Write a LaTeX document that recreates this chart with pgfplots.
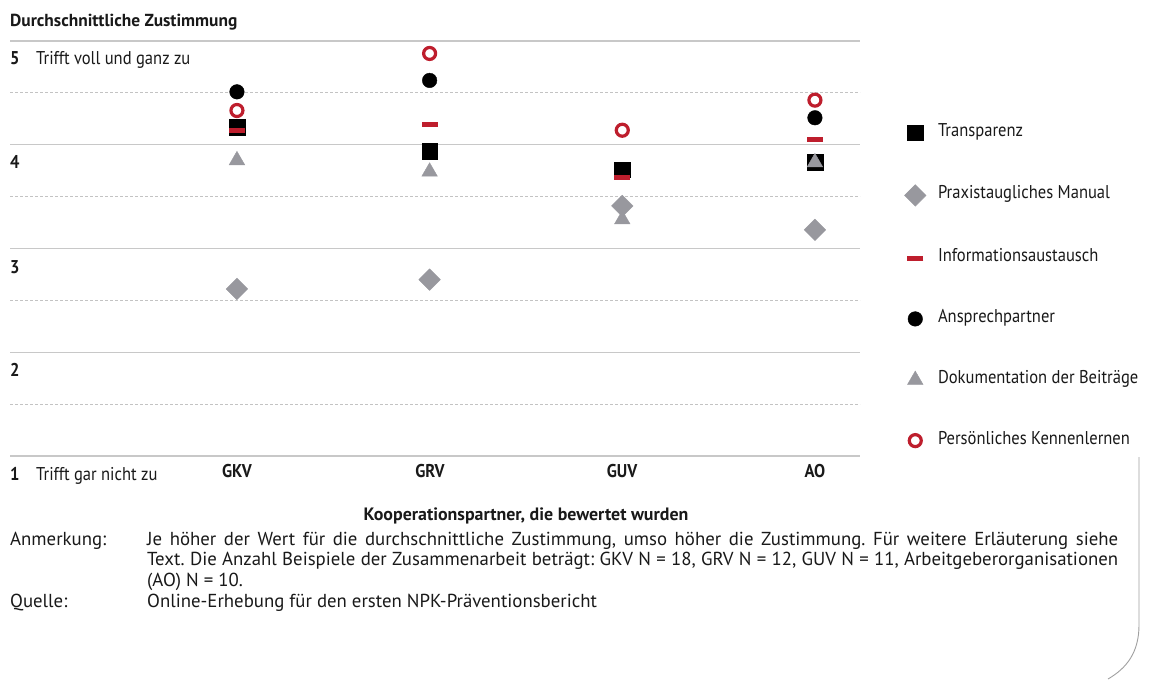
\documentclass[border=0pt]{standalone}
\usepackage{fontspec}
\setmainfont{PT Sans}
\newfontfamily\cond[FakeStretch=0.895]{PT Sans}
\usepackage{pgfplots}
\usepackage{pgfplotstable}
\pgfplotsset{compat=1.18}
\frenchspacing

\definecolor{nred}{RGB}{190,30,45}
\definecolor{ngray}{RGB}{152,152,158}
\definecolor{gridc}{RGB}{200,200,200}
\definecolor{dotc}{RGB}{195,195,195}
\definecolor{txt}{RGB}{25,25,25}
\newcommand\fc{\cond\fontsize{18.5bp}{21bp}\selectfont}
\newcommand\fn{\fontsize{18.8bp}{21bp}\selectfont}

% x: 0 = GKV, 1 = GRV, 2 = GUV, 3 = AO
\pgfplotstableread{
x y
0 4.17
1 3.94
2 3.76
3 3.83
}\transparenz
\pgfplotstableread{
x y
0 2.61
1 2.70
2 3.41
3 3.18
}\praxis
\pgfplotstableread{
x y
0 4.14
1 4.20
2 3.68
3 4.05
}\info
\pgfplotstableread{
x y
0 4.51
1 4.62
2 3.76
3 4.26
}\ansprech
\pgfplotstableread{
x y
0 3.85
1 3.74
2 3.28
3 3.83
}\doku
\pgfplotstableread{
x y
0 4.33
1 4.88
2 4.14
3 4.43
}\persoenlich

\pgfplotsset{
  transp/.style={only marks, mark=square*, mark size=7.8bp,
    mark options={draw=black, fill=black, line width=0.4bp}},
  praxis/.style={only marks, mark=square*, mark size=7.6bp,
    mark options={draw=ngray, fill=ngray, line width=0.4bp, rotate=45}},
  info/.style={only marks, mark=-, mark size=8bp,
    mark options={draw=nred, line width=5bp}},
  ansp/.style={only marks, mark=*, mark size=7.3bp,
    mark options={draw=black, fill=black, line width=0.4bp}},
  doku/.style={only marks, mark=triangle*, mark size=9bp,
    mark options={draw=ngray, fill=ngray, line width=0.4bp}},
  pers/.style={only marks, mark=o, mark size=6bp,
    mark options={draw=nred, fill=white, line width=3.2bp}},
}

\begin{document}
\begin{tikzpicture}[x=1bp, y=1bp, every node/.style={text=txt}]
  \path (0,0) rectangle (1150,-679);
  \begin{axis}[
      at={(10bp,-456bp)}, anchor=south west,
      scale only axis, width=850bp, height=415bp,
      xmin=-1.178, xmax=3.234, ymin=1, ymax=5,
      clip=false,
      axis line style={draw=none},
      xtick=\empty,
      ytick={1,2,3,4,5}, yticklabels=\empty,
      minor ytick={1.5,2.5,3.5,4.5},
      major tick length=0, minor tick length=0,
      ymajorgrids, yminorgrids,
      major grid style={gridc, line width=1.3bp},
      minor grid style={dotc, line width=1bp, dash pattern=on 2.5bp off 2.5bp},
      legend image code/.code={%
        \draw[mark repeat=2, mark phase=2, #1]
          plot coordinates {(-8bp,0bp) (0bp,0bp) (8bp,0bp)};},
      legend cell align=left,
      legend style={
        at={(axis description cs:1.0486,0.805)}, anchor=north west,
        draw=none, fill=none, font=\fc,
        row sep=43.6bp, column sep=10bp,
        nodes={inner sep=2bp, text height=10bp, text depth=3bp},
      },
    ]
    \addlegendimage{transp}
    \addlegendimage{praxis}
    \addlegendimage{info}
    \addlegendimage{ansp}
    \addlegendimage{doku}
    \addlegendimage{pers}
    \addplot[ansp, forget plot] table {\ansprech};
    \addplot[transp, forget plot] table {\transparenz};
    \addplot[info, forget plot] table {\info};
    \addplot[praxis, forget plot] table {\praxis};
    \addplot[doku, forget plot] table {\doku};
    \addplot[pers, forget plot] table {\persoenlich};
    \legend{Transparenz, Praxistaugliches Manual, Informationsaustausch,
      Ansprechpartner, Dokumentation der Beiträge, Persönliches Kennenlernen}
  \end{axis}

  % title
  \node[anchor=base west, inner sep=0, font=\fontsize{17.4bp}{20bp}\selectfont\bfseries]
    at (10,-27) {Durchschnittliche Zustimmung};
  % y labels
  \foreach \v/\yy/\t in {5/41/Trifft voll und ganz zu, 4/145/, 3/249/,
      2/352/, 1/456/Trifft gar nicht zu} {
    \node[anchor=base west, inner sep=0, font=\fc\bfseries] at (10,-\yy-24) {\v};
    \node[anchor=base west, inner sep=0, font=\fc] at (36,-\yy-24) {\t};
  }
  % category labels
  \foreach \xx/\c in {237/GKV, 430/GRV, 622/GUV, 815/AO}
    \node[anchor=base, inner sep=0, font=\fc\bfseries] at (\xx,-477) {\c};
  \node[anchor=base, inner sep=0, font=\fontsize{17.9bp}{20bp}\selectfont\bfseries]
    at (526,-520) {Kooperationspartner, die bewertet wurden};

  % notes
  \node[anchor=base west, inner sep=0, font=\fn] at (10,-545) {Anmerkung:};
  \node[anchor=base west, inner sep=0, font=\fn] at (147,-545)
    {\makebox[971bp][s]{Je höher der Wert für die durchschnittliche Zustimmung, umso höher die Zustimmung. Für weitere Erläuterung siehe}};
  \node[anchor=base west, inner sep=0, font=\fn] at (147,-565)
    {\makebox[971bp][s]{Text. Die Anzahl Beispiele der Zusammenarbeit beträgt: GKV N = 18, GRV N = 12, GUV N = 11, Arbeitgeberorganisationen}};
  \node[anchor=base west, inner sep=0, font=\fn] at (147,-586)
    {(AO) N = 10.};
  \node[anchor=base west, inner sep=0, font=\fn] at (10,-607) {Quelle:};
  \node[anchor=base west, inner sep=0, font=\fn] at (147,-607)
    {Online-Erhebung für den ersten NPK-Präventionsbericht};

  % page corner decoration
  \draw[gray!75, line width=0.9bp] (1139,-457) -- (1139,-625)
    .. controls (1139,-652) and (1127,-668) .. (1108,-679);
\end{tikzpicture}
\end{document}
